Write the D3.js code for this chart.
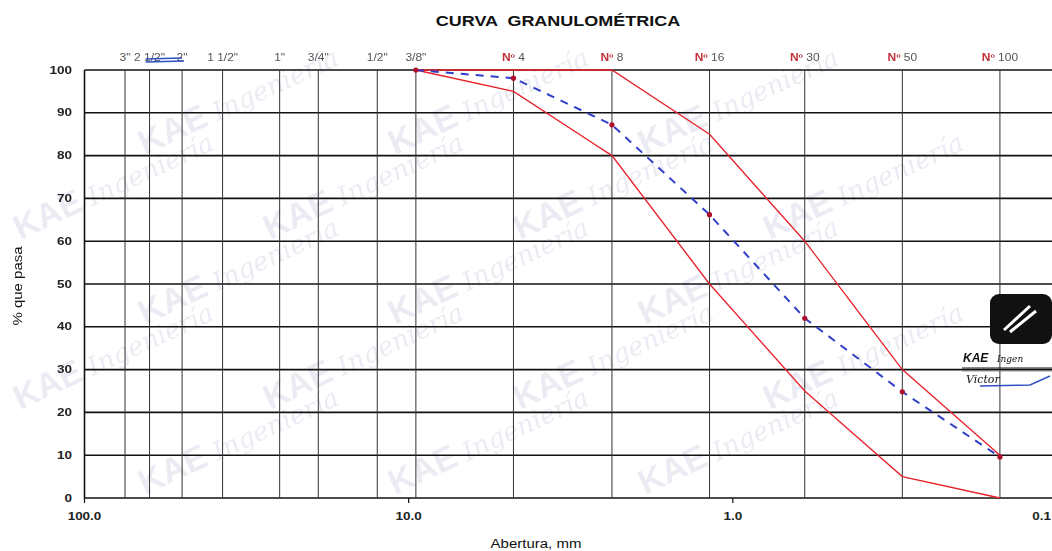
<!DOCTYPE html>
<html><head><meta charset="utf-8">
<script src="https://cdn.jsdelivr.net/npm/d3@7"></script>
<style>body{margin:0;background:#fff;} svg{display:block;font-family:"Liberation Sans",Arial,sans-serif;}</style>
</head><body>
<svg id="c" width="1052" height="551"></svg>
<script>
// ---- data ----
const sieveLabels = ['3"','2 1/2"','2"','1 1/2"','1"','3/4"','1/2"','3/8"','Nº 4','Nº 8','Nº 16','Nº 30','Nº 50','Nº 100'];
const sieveSizes  = [75, 63, 50, 37.5, 25, 19, 12.5, 9.5, 4.75, 2.36, 1.18, 0.6, 0.3, 0.15];
const curveSizes  = [9.5, 4.75, 2.36, 1.18, 0.6, 0.3, 0.15];
const upperLimit  = [100, 100, 100, 85, 60, 30, 10];
const lowerLimit  = [100, 95, 80, 50, 25, 5, 0];
const sample      = [100, 98.1, 87.2, 66.2, 42.0, 24.8, 9.6];
const yTicks      = [0,10,20,30,40,50,60,70,80,90,100];
const xTicks      = [100, 10, 1, 0.1];

const svg = d3.select('#c');
const W = 1052, H = 551;
const x = d3.scaleLog().domain([100, 0.1]).range([84.5, 1057]);
const y = d3.scaleLinear().domain([0, 100]).range([498, 70]);

// stretched text helper (the reference text is horizontally widened)
function stext(parent, tx, ty, sx, txt, anchor) {
  return parent.append('text').attr('transform', `translate(${tx},${ty}) scale(${sx},1)`)
    .attr('text-anchor', anchor || 'middle').text(txt);
}

// watermark (light, only full copies inside the picture)
const wm = svg.append('g').attr('opacity', 0.14).attr('fill', '#6c78a8');
for (let r = -1; r < 8; r++) {
  for (let c = -1; c < 6; c++) {
    const px = c * 250 + (r % 2 ? 125 : 0) + 20, py = r * 85 + 70;
    const g = wm.append('g').attr('transform', `translate(${px},${py}) rotate(-25)`);
    g.append('text').text('KAE').attr('font-size', 34).attr('font-weight', 'bold').attr('x', 0).attr('y', 0);
    g.append('text').text('Ingeniería').attr('font-family', '"DejaVu Serif",serif').attr('font-style', 'italic')
      .attr('font-size', 26).attr('x', 80).attr('y', 0);
    const b = g.node().getBoundingClientRect();
    if (b.left < 1 || b.top < 1 || b.right > W - 1 || b.bottom > H - 1) g.remove();
  }
}

// horizontal grid
svg.append('g').selectAll('line').data(yTicks).join('line')
  .attr('x1', x(100)).attr('x2', W).attr('y1', d => y(d)).attr('y2', d => y(d))
  .attr('stroke', '#111').attr('stroke-width', 1.6);
// left border
svg.append('line').attr('x1', x(100)).attr('x2', x(100)).attr('y1', y(100)).attr('y2', y(0))
  .attr('stroke', '#111').attr('stroke-width', 1.6);
// vertical sieve lines
svg.append('g').selectAll('line').data(sieveSizes).join('line')
  .attr('x1', d => x(d)).attr('x2', d => x(d)).attr('y1', y(100)).attr('y2', y(0))
  .attr('stroke', '#333').attr('stroke-width', 1);

// top sieve labels
const tl = svg.append('g').attr('font-size', 10).attr('fill', '#555');
sieveLabels.forEach((s, i) => {
  const t = tl.append('text').attr('transform', `translate(${x(sieveSizes[i])},61) scale(1.2,1)`).attr('text-anchor', 'middle');
  if (s.startsWith('Nº')) {
    t.append('tspan').text('Nº').attr('fill', '#c0303a').attr('font-weight', 'bold');
    t.append('tspan').text(' ' + s.slice(3));
  } else t.text(s);
});
// small blue mark near 2"
svg.append('path').attr('d', `M${x(63)-4},59 L${x(50)},58 M${x(63)-4},62 L${x(50)+2},61`)
  .attr('stroke', '#3050c0').attr('stroke-width', 1.4).attr('fill', 'none');

// y tick labels
const yl = svg.append('g').attr('font-size', 10).attr('font-weight', 'bold').attr('fill', '#222');
yTicks.forEach(d => stext(yl, 72, y(d) + 3.5, 1.35, d, 'end'));

// x ticks
svg.append('g').selectAll('line').data(xTicks).join('line')
  .attr('x1', d => x(d)).attr('x2', d => x(d)).attr('y1', y(0)).attr('y2', y(0) + 5)
  .attr('stroke', '#111').attr('stroke-width', 1.2);
const xl = svg.append('g').attr('font-size', 10).attr('font-weight', 'bold').attr('fill', '#222');
xTicks.forEach(d => stext(xl, d === 0.1 ? W - 1 : x(d), 520, 1.35, d.toFixed(1), d === 0.1 ? 'end' : 'middle'));

// curves
const line = d3.line().x(d => x(d[0])).y(d => y(d[1]));
svg.append('path').datum(curveSizes.map((s, i) => [s, upperLimit[i]])).attr('d', line)
  .attr('fill', 'none').attr('stroke', '#e8202a').attr('stroke-width', 1.3);
svg.append('path').datum(curveSizes.map((s, i) => [s, lowerLimit[i]])).attr('d', line)
  .attr('fill', 'none').attr('stroke', '#e8202a').attr('stroke-width', 1.3);
svg.append('path').datum(curveSizes.map((s, i) => [s, sample[i]])).attr('d', line)
  .attr('fill', 'none').attr('stroke', '#3040c8').attr('stroke-width', 2).attr('stroke-dasharray', '8,7');
svg.append('g').selectAll('circle').data(curveSizes.map((s, i) => [s, sample[i]])).join('circle')
  .attr('cx', d => x(d[0])).attr('cy', d => y(d[1])).attr('r', 2.6).attr('fill', '#b0102a');

// titles
const tt = svg.append('g').attr('fill', '#111');
stext(tt, 558, 26, 1.2, 'CURVA  GRANULOMÉTRICA').attr('font-size', 15).attr('font-weight', 'bold').style('white-space', 'pre');
stext(tt, 536, 548, 1.25, 'Abertura, mm').attr('font-size', 12);
tt.append('text').attr('transform', 'translate(22,286) rotate(-90) scale(1.25,1)').attr('text-anchor', 'middle')
  .attr('font-size', 12).text('% que pasa');

// stamp logo
const lg = svg.append('g');
lg.append('rect').attr('x', 990).attr('y', 294).attr('width', 62).attr('height', 50).attr('rx', 9).attr('fill', '#111');
lg.append('path').attr('d', 'M1004,330 L1030,306 M1010,332 L1036,311').attr('stroke', '#fff').attr('stroke-width', 3);
lg.append('text').attr('x', 963).attr('y', 362).attr('font-size', 12).attr('font-weight', 'bold')
  .attr('font-style', 'italic').attr('fill', '#111').text('KAE');
lg.append('text').attr('x', 997).attr('y', 362).attr('font-size', 9).attr('font-style', 'italic')
  .attr('font-family', '"DejaVu Serif",serif').attr('fill', '#111').text('Ingen');
lg.append('line').attr('x1', 962).attr('x2', 1052).attr('y1', 368).attr('y2', 368).attr('stroke', '#111').attr('stroke-width', 1);
lg.append('line').attr('x1', 962).attr('x2', 1052).attr('y1', 371).attr('y2', 371).attr('stroke', '#555').attr('stroke-width', 0.6);
lg.append('text').attr('x', 966).attr('y', 383).attr('font-size', 11).attr('font-style', 'italic')
  .attr('font-family', '"DejaVu Serif",serif').attr('fill', '#111').text('Victor');
lg.append('path').attr('d', 'M980,386 L1030,385 L1050,376').attr('stroke', '#3050c0').attr('stroke-width', 1.5).attr('fill', 'none');
</script>
</body></html>
